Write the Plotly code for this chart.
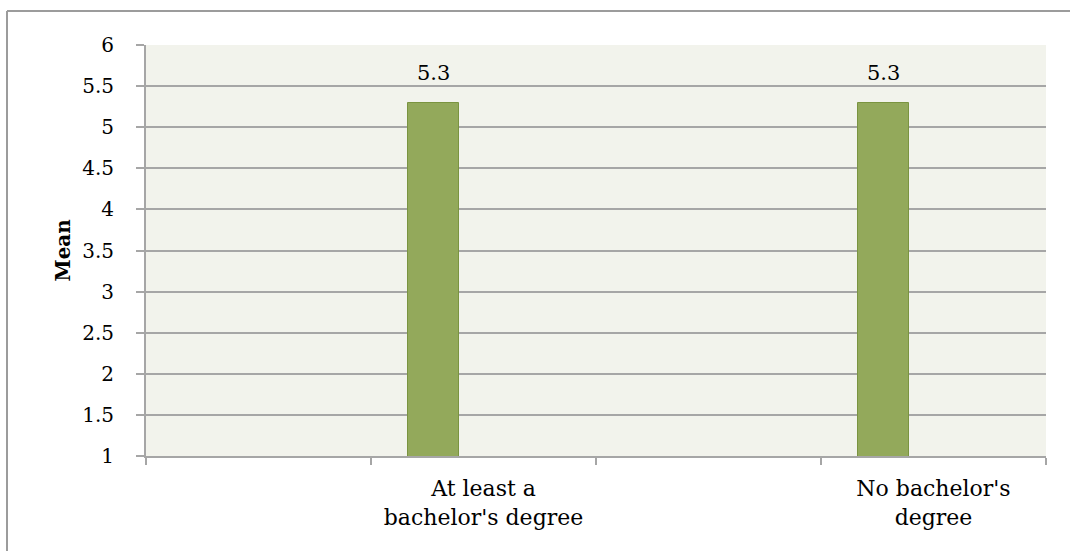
import plotly.graph_objects as go

# Category slots along the x axis (two unlabeled spacer slots)
categories = ["", "At least a<br>bachelor's degree", "", "No bachelor's<br>degree"]
means = [None, 5.3, None, 5.3]
y_ticks = [1, 1.5, 2, 2.5, 3, 3.5, 4, 4.5, 5, 5.5, 6]
y_tick_labels = ["1", "1.5", "2", "2.5", "3", "3.5", "4", "4.5", "5", "5.5", "6"]

FONT = "DejaVu Serif"
GRID = "#A6A6A6"
BAR_FILL = "#93A95B"
BAR_EDGE = "#7A9440"

slot_centers = [i + 0.5 for i in range(len(categories))]
bar_width = 0.227
bar_offset = -0.337

fig = go.Figure()
fig.add_trace(go.Bar(
    x=slot_centers,
    y=means,
    width=bar_width,
    offset=bar_offset,
    marker=dict(color=BAR_FILL, line=dict(color=BAR_EDGE, width=1)),
    hoverinfo="skip",
))

# value labels above each bar
annotations = []
for xc, v in zip(slot_centers, means):
    if v is None:
        continue
    annotations.append(dict(
        x=xc + bar_offset + bar_width / 2, y=v, xref="x", yref="y",
        text=f"{v:g}", showarrow=False, yanchor="bottom", yshift=16,
        font=dict(family=FONT, size=21, color="#000000"),
    ))

annotations.append(dict(
    x=(62 - 146) / 900, y=0.5, xref="paper", yref="paper", text="<b>Mean</b>",
    textangle=-90, showarrow=False, xanchor="center", yanchor="middle",
    font=dict(family=FONT, size=20, color="#000000"),
))

W, H = 1070, 551
L, R, T, B = 146, 24, 45, 95
pw, ph = W - L - R, H - T - B

# outer chart frame: top and left edges
fx0 = (7 - L) / pw
fx1 = (W + 2 - L) / pw
fy0 = (H - B - (H + 2)) / ph
fy1 = (H - B - 11) / ph
frame = dict(color="#9C9C9C", width=2)
shapes = [
    dict(type="line", xref="paper", yref="paper", x0=fx0, x1=fx1, y0=fy1, y1=fy1, line=frame),
    dict(type="line", xref="paper", yref="paper", x0=fx0, x1=fx0, y0=fy0, y1=fy1, line=frame),
]

fig.update_layout(
    width=W, height=H,
    margin=dict(l=L, r=R, t=T, b=B),
    paper_bgcolor="#FFFFFF",
    plot_bgcolor="#F2F3EC",
    showlegend=False,
    bargap=0,
    annotations=annotations,
    shapes=shapes,
    font=dict(family=FONT, size=22, color="#000000"),
    xaxis=dict(
        range=[0, len(categories)],
        tickmode="array", tickvals=slot_centers, ticktext=categories,
        ticks="", showgrid=False, zeroline=False,
        showline=True, linecolor=GRID, linewidth=2,
        ticklabelstandoff=12,
        tickfont=dict(family=FONT, size=22, color="#000000"),
        minor=dict(tick0=0, dtick=1, ticks="outside", ticklen=7,
                   tickcolor=GRID, tickwidth=2, showgrid=False),
        fixedrange=True,
    ),
    yaxis=dict(
        range=[1, 6],
        tickmode="array", tickvals=y_ticks, ticktext=y_tick_labels,
        ticks="outside", ticklen=8, tickcolor=GRID, tickwidth=2,
        showgrid=True, gridcolor=GRID, gridwidth=2,
        showline=True, linecolor=GRID, linewidth=2,
        zeroline=False, ticklabelstandoff=18,
        tickfont=dict(family=FONT, size=20, color="#000000"),
        fixedrange=True,
    ),
)

fig.write_html("out.html")
